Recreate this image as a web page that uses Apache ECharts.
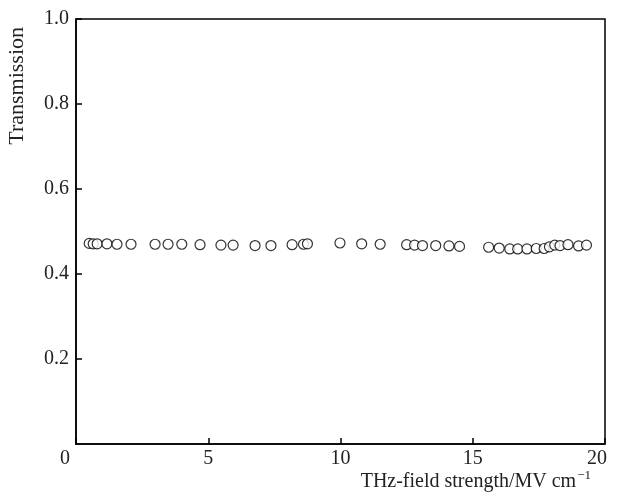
<!DOCTYPE html>
<html>
<head>
<meta charset="utf-8">
<script src="https://cdn.jsdelivr.net/npm/echarts@6/dist/echarts.min.js"></script>
<style>html,body{margin:0;padding:0;background:#fff;}#c{width:617px;height:496px;}</style>
</head>
<body>
<div id="c"></div>
<script>
const fieldStrength = [0.5, 0.65, 0.8, 1.17, 1.55, 2.08, 2.99, 3.48, 4.0, 4.69, 5.48, 5.94, 6.77, 7.37, 8.17, 8.6, 8.75, 9.98, 10.8, 11.5, 12.5, 12.8, 13.1, 13.6, 14.1, 14.5, 15.6, 16.0, 16.4, 16.7, 17.05, 17.4, 17.7, 17.9, 18.1, 18.3, 18.6, 19.0, 19.3];
const transmission = [0.472, 0.471, 0.471, 0.471, 0.470, 0.470, 0.470, 0.470, 0.470, 0.469, 0.468, 0.468, 0.467, 0.467, 0.469, 0.470, 0.471, 0.473, 0.471, 0.470, 0.469, 0.468, 0.467, 0.467, 0.466, 0.465, 0.463, 0.461, 0.459, 0.459, 0.459, 0.460, 0.460, 0.464, 0.468, 0.467, 0.469, 0.466, 0.468];
const xTicks = [0, 5, 10, 15, 20];
const yTicks = [0.2, 0.4, 0.6, 0.8, 1.0];
const xTitle = 'THz-field strength/MV cm';
const xTitleSup = '−1';
const yTitle = 'Transmission';

const font = 'Liberation Serif';
const chart = echarts.init(document.getElementById('c'), null, {renderer: 'canvas'});
chart.setOption({
  animation: false,
  backgroundColor: '#fff',
  grid: {left: 76, right: 12, top: 19, bottom: 52, show: true, borderColor: '#000', borderWidth: 1.5, containLabel: false},
  xAxis: {
    type: 'value', min: xTicks[0], max: xTicks[xTicks.length - 1], interval: 5,
    axisLine: {show: true, onZero: false, lineStyle: {color: '#000', width: 1.5}},
    axisTick: {show: true, inside: true, length: 6, lineStyle: {color: '#000', width: 1.5}},
    splitLine: {show: false},
    axisLabel: {
      color: '#222', fontFamily: font, fontSize: 20, margin: 5,
      formatter: v => v === 0 ? '{z|0}' : (v === 20 ? '{e|20}' : String(v)),
      rich: {
        z: {fontFamily: font, fontSize: 20, color: '#222', padding: [0, 22, 0, 0]},
        e: {fontFamily: font, fontSize: 20, color: '#222', padding: [0, 16, 0, 0]}
      }
    }
  },
  yAxis: {
    type: 'value', min: 0, max: 1, interval: 0.2,
    axisLine: {show: true, onZero: false, lineStyle: {color: '#000', width: 1.5}},
    axisTick: {show: true, inside: true, length: 6, lineStyle: {color: '#000', width: 1.5}},
    splitLine: {show: false},
    axisLabel: {
      color: '#222', fontFamily: font, fontSize: 20, margin: 7, showMinLabel: false,
      formatter: v => v.toFixed(1)
    }
  },
  graphic: [
    {type: 'text', left: 6, top: 27, rotation: Math.PI / 2,
     style: {text: yTitle, fontFamily: font, fontSize: 22, fill: '#222'}},
    {type: 'text', right: 26, top: 469,
     style: {text: '{m|' + xTitle + '}{s|' + xTitleSup + '}', fill: '#222',
       rich: {m: {fontFamily: font, fontSize: 20, color: '#222'},
              s: {fontFamily: font, fontSize: 13, color: '#222', padding: [0, 0, 12, 1]}}}}
  ],
  series: [{
    type: 'scatter',
    data: fieldStrength.map((x, i) => [x, transmission[i]]),
    symbol: 'circle', symbolSize: 10,
    itemStyle: {color: '#fff', borderColor: '#000', borderWidth: 1.2}
  }]
});
</script>
</body>
</html>
